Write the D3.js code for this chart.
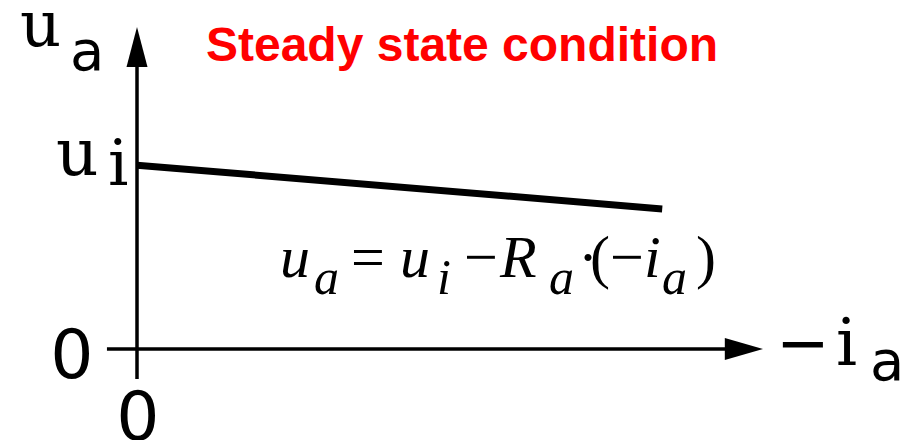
<!DOCTYPE html>
<html>
<head>
<meta charset="utf-8">
<script src="https://cdn.jsdelivr.net/npm/d3@7"></script>
<style>
  html, body { margin: 0; padding: 0; background: #fff; }
  svg { display: block; }
</style>
</head>
<body>
<svg id="chart" width="905" height="440"></svg>
<script>
// Load line: output voltage u_a against load current -i_a
const currentValues = [0, 0.839];      // -i_a (relative)
const voltageValues = [0.571, 0.435];  // u_a (relative), u_i at -i_a = 0
const uiLevel = 0.571;                 // ideal source voltage u_i
const xTickLabels = ["0"];
const yTickLabels = ["0"];

const svg = d3.select("#chart");

// Axis scales: origin at (137, 349), arrow tips at x = 1 and y = 1
const x = d3.scaleLinear().domain([0, 1]).range([137, 763]);
const y = d3.scaleLinear().domain([0, 1]).range([349, 27]);

const axisColor = "#000";

// Horizontal axis with arrowhead
svg.append("line")
  .attr("x1", x(-0.048)).attr("x2", x(0.95))
  .attr("y1", y(0)).attr("y2", y(0))
  .attr("stroke", axisColor).attr("stroke-width", 3.5);
svg.append("path")
  .attr("d", `M${x(1)},${y(0)} L${x(0.939)},${y(0) - 11} L${x(0.939)},${y(0) + 11} Z`)
  .attr("fill", axisColor);

// Vertical axis with arrowhead
svg.append("line")
  .attr("x1", x(0)).attr("x2", x(0))
  .attr("y1", y(-0.093)).attr("y2", y(0.9))
  .attr("stroke", axisColor).attr("stroke-width", 3.5);
svg.append("path")
  .attr("d", `M${x(0)},${y(1)} L${x(0) - 10.5},${y(0.876)} L${x(0) + 10.5},${y(0.876)} Z`)
  .attr("fill", axisColor);

// Load line
const pts = currentValues.map((c, i) => [c, voltageValues[i]]);
svg.append("path")
  .datum(pts)
  .attr("d", d3.line().x(d => x(d[0])).y(d => y(d[1])))
  .attr("fill", "none")
  .attr("stroke", "#000")
  .attr("stroke-width", 7);

// Axis symbol labels: serif letters, sans subscript "a" and digits
const serif = "'DejaVu Serif', serif";
const sans = "'DejaVu Sans', sans-serif";
function glyphs(parts) {
  const t = svg.append("text").attr("fill", "#000");
  parts.forEach(p => {
    t.append("tspan")
      .attr("x", p.x).attr("y", p.y)
      .attr("font-family", p.f)
      .attr("font-size", p.s)
      .text(p.t);
  });
  return t;
}

// u_a (vertical axis name)
glyphs([
  { t: "u", x: 20, y: 46, s: 64, f: serif },
  { t: "a", x: 70, y: 70, s: 56, f: sans }
]);
// u_i level marker
glyphs([
  { t: "u", x: 56, y: y(uiLevel) + 10, s: 66, f: serif },
  { t: "i", x: 108, y: y(uiLevel) + 20, s: 64, f: serif }
]);
// zero on vertical axis
svg.append("text")
  .attr("x", 72).attr("y", y(0) + 29)
  .attr("font-family", sans).attr("font-size", 68)
  .attr("text-anchor", "middle")
  .text(yTickLabels[0]);
// zero on horizontal axis
svg.append("text")
  .attr("x", x(0) + 1).attr("y", y(0) + 91)
  .attr("font-family", sans).attr("font-size", 68)
  .attr("text-anchor", "middle")
  .text(xTickLabels[0]);
// -i_a (horizontal axis name)
glyphs([
  { t: "\u2212", x: 776, y: 365, s: 64, f: sans },
  { t: "i", x: 836, y: 365, s: 66, f: serif },
  { t: "a", x: 870, y: 380, s: 56, f: sans }
]);

// Title
svg.append("text")
  .attr("x", 462).attr("y", 61)
  .attr("text-anchor", "middle")
  .attr("font-family", "'Liberation Sans', Arial, sans-serif")
  .attr("font-weight", "bold")
  .attr("font-size", 48)
  .attr("fill", "#ff0000")
  .text("Steady state condition");

// Load line equation: u_a = u_i - R_a·(-i_a)
const eq = svg.append("text")
  .attr("font-family", "'Liberation Serif', 'Times New Roman', serif")
  .attr("fill", "#000");
const mainY = 277, subY = 294, mainSize = 60, subSize = 50;
[
  { t: "u", x: 280, y: mainY, s: mainSize, i: true },
  { t: "a", x: 314, y: subY, s: subSize, i: true },
  { t: "=", x: 351, y: mainY, s: mainSize, i: false },
  { t: "u", x: 400, y: mainY, s: mainSize, i: true },
  { t: "i", x: 437, y: subY, s: subSize, i: true },
  { t: "\u2212", x: 464, y: mainY, s: mainSize, i: false },
  { t: "R", x: 500, y: mainY, s: mainSize, i: true },
  { t: "a", x: 549, y: subY, s: subSize, i: true },
  { t: "\u00B7", x: 578, y: mainY, s: mainSize, i: false },
  { t: "(", x: 590, y: mainY, s: mainSize, i: false },
  { t: "\u2212", x: 610, y: mainY, s: mainSize, i: false },
  { t: "i", x: 644, y: mainY, s: mainSize, i: true },
  { t: "a", x: 662, y: subY, s: subSize, i: true },
  { t: ")", x: 696, y: mainY, s: mainSize, i: false }
].forEach(p => {
  eq.append("tspan")
    .attr("x", p.x).attr("y", p.y)
    .attr("font-size", p.s)
    .attr("font-style", p.i ? "italic" : "normal")
    .text(p.t);
});
</script>
</body>
</html>
